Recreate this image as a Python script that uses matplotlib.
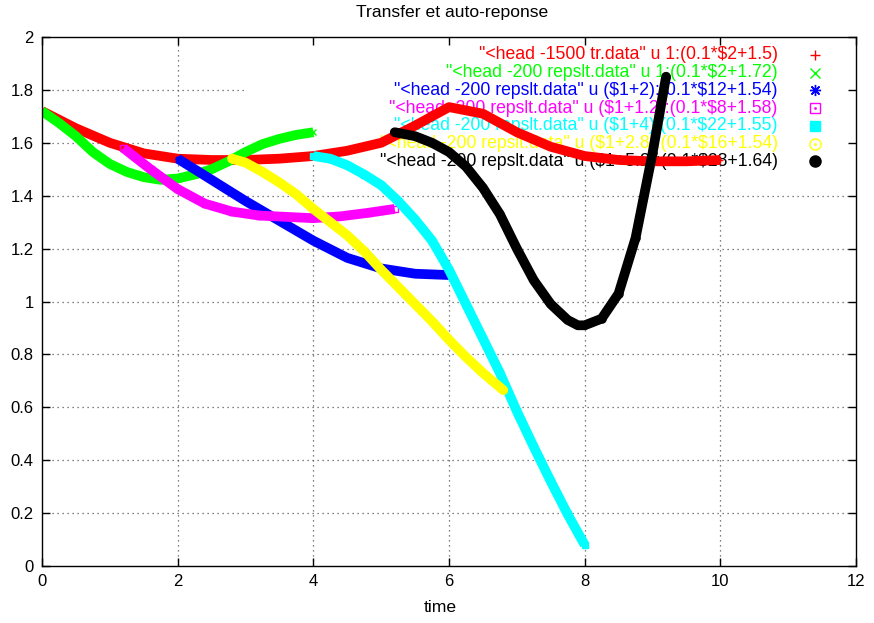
import matplotlib
matplotlib.use("Agg")
import matplotlib.pyplot as plt

plt.rcParams['font.family'] = ['Liberation Sans', 'DejaVu Sans']

title = "Transfer et auto-reponse"
xlabel = "time"
xticks = [0, 2, 4, 6, 8, 10, 12]
yticks = [0, 0.2, 0.4, 0.6, 0.8, 1, 1.2, 1.4, 1.6, 1.8, 2]
ytick_labels = ["0", "0.2", "0.4", "0.6", "0.8", "1", "1.2", "1.4", "1.6", "1.8", "2"]

# series
red_x = [0, 0.5, 1.0, 1.5, 2.0, 2.5, 3.0, 3.5, 4.0, 4.5, 5.0, 5.5, 6.0, 6.5, 7.0, 7.5, 8.0, 8.5, 9.0, 9.5, 10.0]
red_y = [1.72, 1.655, 1.60, 1.56, 1.54, 1.535, 1.535, 1.54, 1.55, 1.57, 1.60, 1.665, 1.735, 1.71, 1.64, 1.585, 1.55, 1.535, 1.53, 1.53, 1.535]

green_x = [0, 0.25, 0.5, 0.75, 1.0, 1.25, 1.5, 1.75, 2.0, 2.25, 2.5, 2.75, 3.0, 3.25, 3.5, 3.75, 4.0]
green_y = [1.72, 1.675, 1.625, 1.565, 1.52, 1.49, 1.47, 1.46, 1.465, 1.48, 1.50, 1.53, 1.565, 1.595, 1.615, 1.63, 1.64]

blue_x = [2.0, 2.5, 3.0, 3.5, 4.0, 4.5, 5.0, 5.5, 6.0]
blue_y = [1.54, 1.46, 1.38, 1.305, 1.23, 1.165, 1.125, 1.105, 1.10]

magenta_x = [1.2, 1.6, 2.0, 2.4, 2.8, 3.2, 3.6, 4.0, 4.4, 4.8, 5.2]
magenta_y = [1.58, 1.50, 1.425, 1.37, 1.34, 1.325, 1.32, 1.315, 1.322, 1.335, 1.35]

cyan_x = [4.0, 4.25, 4.5, 4.75, 5.0, 5.25, 5.5, 5.75, 6.0, 6.25, 6.5, 6.75, 7.0, 7.25, 7.5, 7.75, 8.0]
cyan_y = [1.55, 1.54, 1.515, 1.48, 1.44, 1.38, 1.31, 1.23, 1.12, 0.99, 0.86, 0.73, 0.585, 0.45, 0.32, 0.195, 0.08]

yellow_x = [2.8, 3.0, 3.25, 3.5, 3.75, 4.0, 4.25, 4.5, 4.75, 5.0, 5.25, 5.5, 5.75, 6.0, 6.25, 6.5, 6.8]
yellow_y = [1.54, 1.525, 1.49, 1.45, 1.405, 1.35, 1.30, 1.25, 1.19, 1.12, 1.055, 0.99, 0.925, 0.855, 0.79, 0.73, 0.665]

black_x = [5.2, 5.5, 5.75, 6.0, 6.25, 6.5, 6.75, 7.0, 7.25, 7.5, 7.75, 7.9, 8.0, 8.25, 8.5, 8.75, 9.0, 9.2]
black_y = [1.64, 1.625, 1.60, 1.565, 1.51, 1.43, 1.33, 1.20, 1.08, 0.99, 0.93, 0.91, 0.91, 0.935, 1.03, 1.24, 1.56, 1.85]

labels = [
    '"<head -1500 tr.data" u 1:(0.1*$2+1.5)',
    '"<head -200 repslt.data" u 1:(0.1*$2+1.72)',
    '"<head -200 repslt.data" u ($1+2):(0.1*$12+1.54)',
    '"<head -200 repslt.data" u ($1+1.2):(0.1*$8+1.58)',
    '"<head -200 repslt.data" u ($1+4):(0.1*$22+1.55)',
    '"<head -200 repslt.data" u ($1+2.8):(0.1*$16+1.54)',
    '"<head -200 repslt.data" u ($1+5.2):(0.1*$28+1.64)',
]
colors = ['#ff0000', '#00ff00', '#0000ff', '#ff00ff', '#00ffff', '#ffff00', '#000000']

series = [(red_x, red_y), (green_x, green_y), (blue_x, blue_y), (magenta_x, magenta_y),
          (cyan_x, cyan_y), (yellow_x, yellow_y), (black_x, black_y)]
markers = ['+', 'x', (8, 2, 0), 's', 's', 'o', 'o']
filled = [True, True, True, False, True, False, True]
caps = ['butt', 'butt', 'butt', 'butt', 'butt', 'round', 'round']

fig = plt.figure(figsize=(8.74, 6.23), dpi=100)
ax = fig.add_axes([42 / 874, 57 / 623, 814 / 874, 529 / 623])
ax.set_xlim(0, 12)
ax.set_ylim(0, 2)
ax.set_xticks(xticks)
ax.set_xticklabels([str(t) for t in xticks])
ax.set_yticks(yticks)
ax.set_yticklabels(ytick_labels)
ax.tick_params(direction='in', top=True, right=True, length=6, width=1,
               labelsize=12, pad=6, colors='black')
for s in ax.spines.values():
    s.set_linewidth(1.0)

# grid (blanked behind the key box, as gnuplot does)
key_left = 0.249
key_bottom = 0.762
grid_style = dict(color='0.35', linestyle=(0, (1, 3)), linewidth=0.9, zorder=0.5)
for xv in xticks[1:-1]:
    frac = (xv - 0) / 12
    ax.axvline(xv, ymin=0, ymax=(1.0 if frac < key_left else key_bottom), **grid_style)
for yv in yticks[1:-1]:
    frac = yv / 2
    ax.axhline(yv, xmin=0, xmax=(1.0 if frac < key_bottom else key_left), **grid_style)

# key text (under the curves)
row0 = 0.966
dy = 0.0335
for i, (lab, c) in enumerate(zip(labels, colors)):
    yy = row0 - i * dy
    ax.text(0.904, yy, lab, transform=ax.transAxes, ha='right', va='center',
            fontsize=12.7, color=c, zorder=1, parse_math=False)
    mk = markers[i]
    ax.plot([0.9496], [yy], transform=ax.transAxes, marker=mk, linestyle='none',
            markersize=7 if mk in ('+', 'x', 's') else 8,
            markeredgecolor=c, markerfacecolor=(c if filled[i] else 'none'),
            markeredgewidth=1.0, clip_on=False, zorder=3)
    if not filled[i]:
        ax.plot([0.9496], [yy], transform=ax.transAxes, marker='.', markersize=2,
                color=c, linestyle='none', clip_on=False, zorder=3)

# curves
for i, ((xs, ys), c) in enumerate(zip(series, colors)):
    ax.plot(xs, ys, color=c, linewidth=7, solid_capstyle=caps[i],
            solid_joinstyle='round', zorder=2 + i * 0.01)
    ax.plot(xs, ys, linestyle='none', marker=markers[i], markersize=5,
            markeredgecolor=c, markerfacecolor=(c if filled[i] else 'none'),
            markeredgewidth=1.0, zorder=2 + i * 0.01)

fig.text(452 / 874, 1 - 12 / 623, title, ha='center', va='center', fontsize=12.6)
fig.text(440 / 874, 1 - 607 / 623, xlabel, ha='center', va='center', fontsize=12.6)

fig.savefig('out.png', dpi=100)
